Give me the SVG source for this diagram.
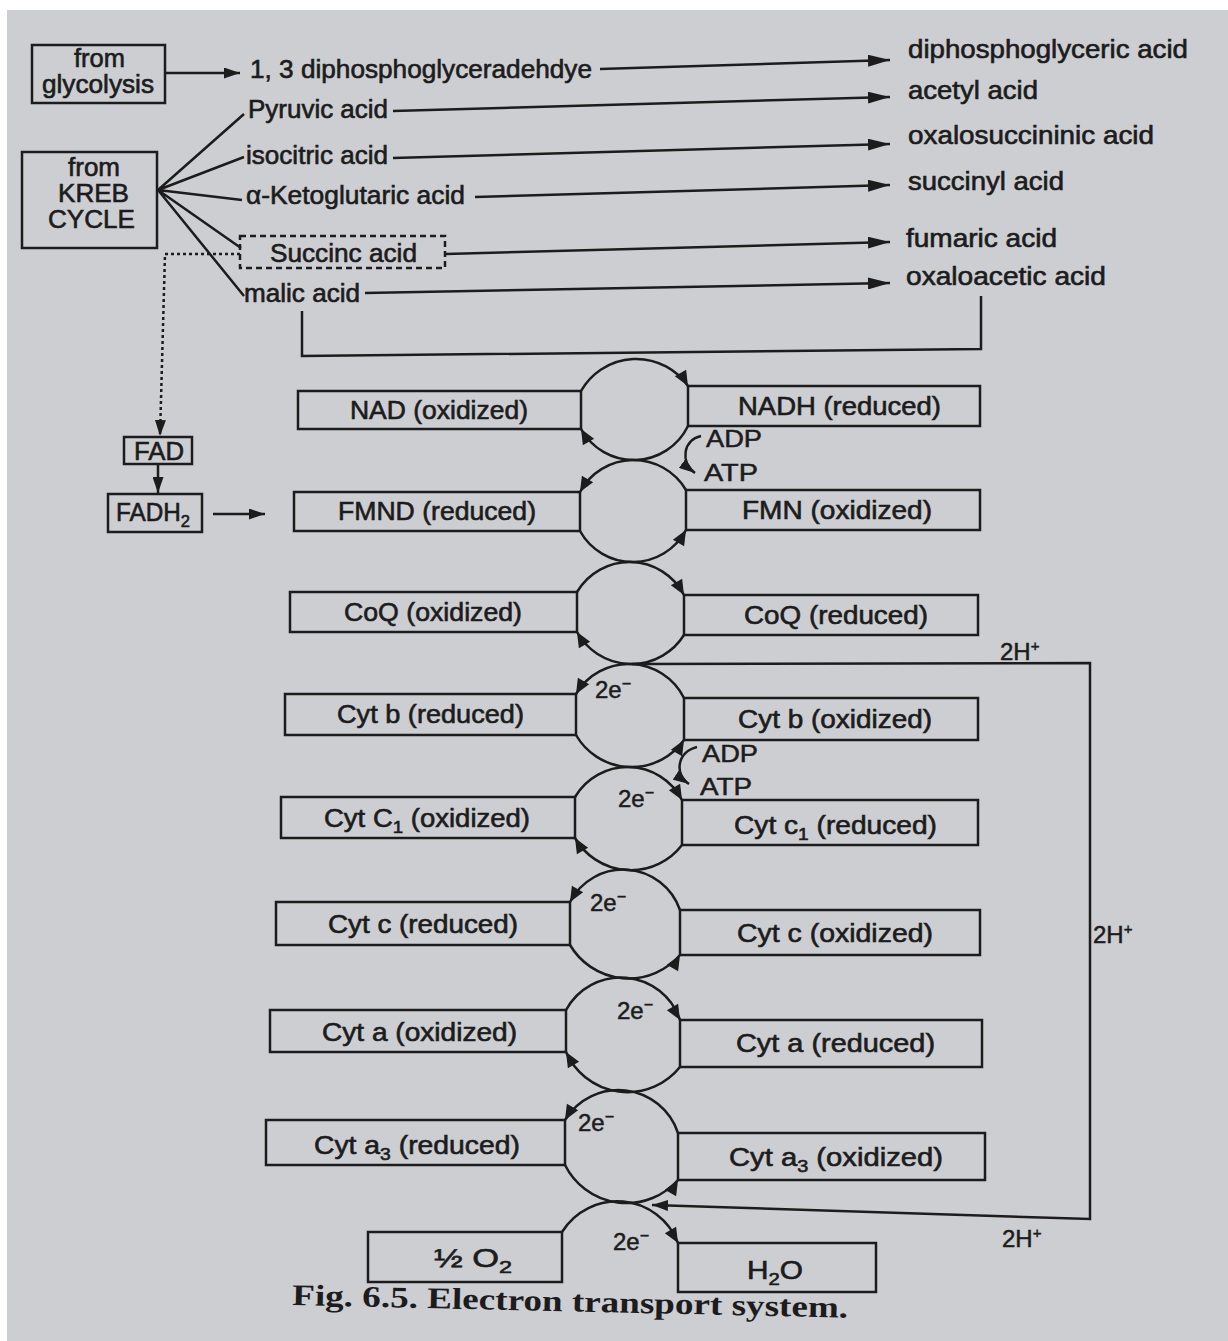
<svg xmlns="http://www.w3.org/2000/svg" xmlns:xlink="http://www.w3.org/1999/xlink" width="1228" height="1341" viewBox="0 0 1228 1341">
<style>
.bx{fill:none;stroke:#1c1c1c;stroke-width:2.5}
.ln{fill:none;stroke:#1c1c1c;stroke-width:2.5}
.t{font-family:"Liberation Sans",Arial,sans-serif;font-size:25px;fill:#1c1c1c;stroke:#1c1c1c;stroke-width:0.6}
.s{font-family:"Liberation Sans",Arial,sans-serif;font-size:24px;fill:#1c1c1c;stroke:#1c1c1c;stroke-width:0.5}
.cap{font-family:"Liberation Serif","Times New Roman",serif;font-size:30px;font-weight:bold;fill:#1c1c1c}
.ah{fill:#1c1c1c}
</style>
<defs>
<marker id="arr" viewBox="0 0 22 12" refX="22" refY="6" markerWidth="22" markerHeight="12" markerUnits="userSpaceOnUse" orient="auto"><path d="M0,0 L22,6 L0,12 Z" fill="#1c1c1c"/></marker>
<marker id="arrs" viewBox="0 0 16 11" refX="16" refY="5.5" markerWidth="16" markerHeight="11" markerUnits="userSpaceOnUse" orient="auto"><path d="M0,0 L16,5.5 L0,11 Z" fill="#1c1c1c"/></marker>
<path id="ah" d="M0,0 L-15,-6.5 L-15,6.5 Z"/>
</defs>
<rect x="0" y="0" width="1228" height="1341" fill="#ffffff"/>
<rect x="7" y="10" width="1221" height="1331" fill="#cdced2"/>

<g id="connectors">
  <line class="ln" x1="166" y1="73" x2="240" y2="73" marker-end="url(#arrs)"/>
  <line class="ln" x1="600" y1="69" x2="890" y2="60" marker-end="url(#arr)"/>
  <line class="ln" x1="393" y1="111" x2="890" y2="97" marker-end="url(#arr)"/>
  <line class="ln" x1="393" y1="158" x2="890" y2="144" marker-end="url(#arr)"/>
  <line class="ln" x1="475" y1="197" x2="890" y2="185" marker-end="url(#arr)"/>
  <line class="ln" x1="446" y1="254" x2="890" y2="242" marker-end="url(#arr)"/>
  <line class="ln" x1="365" y1="293" x2="890" y2="283" marker-end="url(#arr)"/>
  <path class="ln" d="M158 190 L244 114 M158 190 L244 157 M158 190 L242 200 M158 190 L241 248 M158 190 L244 296"/>
  <path class="ln" d="M302 311 V356 L981 349 V296"/>
  <path class="ln" d="M240 254 L165 254 L160 436" stroke-dasharray="3 3" marker-end="url(#arrs)"/>
  <line class="ln" x1="158" y1="465" x2="158" y2="493" marker-end="url(#arrs)"/>
  <line class="ln" x1="213" y1="514" x2="265" y2="514" marker-end="url(#arrs)"/>
  <path class="ln" d="M701 436 C683 440 680 462 695 473" marker-end="url(#arrs)"/>
  <path class="ln" d="M697 747 C677 752 674 774 689 784" marker-end="url(#arrs)"/>
  <path class="ln" d="M632 664 L1090 663 L1090 1219 L652 1205" marker-end="url(#arrs)"/>
  <!-- circle arcs -->
  <path class="ln" d="M581 391 A63.3 63.3 0 0 1 688 386 M688 426 A60.3 60.3 0 0 1 581 429"/>
  <path class="ln" d="M580 492 A60.8 60.8 0 0 1 686 490 M686 530 A60.3 60.3 0 0 1 580 531"/>
  <path class="ln" d="M577 592 A61.2 61.2 0 0 1 684 595 M684 635 A62.2 62.2 0 0 1 577 632"/>
  <path class="ln" d="M576 694 A61.6 61.6 0 0 1 684 698 M684 740 A64.2 64.2 0 0 1 576 735"/>
  <path class="ln" d="M575 797 A61.2 61.2 0 0 1 682 800 M682 845 A64.5 64.5 0 0 1 575 838"/>
  <path class="ln" d="M570 902 A60 60 0 0 1 680 910 M680 955 A68 68 0 0 1 570 945"/>
  <path class="ln" d="M566 1010 A62.4 62.4 0 0 1 680 1020 M680 1067 A67.3 67.3 0 0 1 566 1052"/>
  <path class="ln" d="M565 1120 A62.7 62.7 0 0 1 678 1133 M678 1180 A68.8 68.8 0 0 1 565 1165"/>
  <path class="ln" d="M562 1232 A65.1 65.1 0 0 1 678 1243"/>
  <!-- arc arrowheads -->
  <use xlink:href="#ah" class="ah" transform="translate(688 386) rotate(60)"/>
  <use xlink:href="#ah" class="ah" transform="translate(581 429) rotate(-120)"/>
  <use xlink:href="#ah" class="ah" transform="translate(580 492) rotate(120)"/>
  <use xlink:href="#ah" class="ah" transform="translate(686 530) rotate(-60)"/>
  <use xlink:href="#ah" class="ah" transform="translate(684 595) rotate(60)"/>
  <use xlink:href="#ah" class="ah" transform="translate(577 632) rotate(-120)"/>
  <use xlink:href="#ah" class="ah" transform="translate(576 694) rotate(120)"/>
  <use xlink:href="#ah" class="ah" transform="translate(684 740) rotate(-60)"/>
  <use xlink:href="#ah" class="ah" transform="translate(682 800) rotate(60)"/>
  <use xlink:href="#ah" class="ah" transform="translate(575 838) rotate(-120)"/>
  <use xlink:href="#ah" class="ah" transform="translate(570 902) rotate(120)"/>
  <use xlink:href="#ah" class="ah" transform="translate(680 955) rotate(-60)"/>
  <use xlink:href="#ah" class="ah" transform="translate(680 1020) rotate(60)"/>
  <use xlink:href="#ah" class="ah" transform="translate(566 1052) rotate(-120)"/>
  <use xlink:href="#ah" class="ah" transform="translate(565 1120) rotate(120)"/>
  <use xlink:href="#ah" class="ah" transform="translate(678 1180) rotate(-60)"/>
  <use xlink:href="#ah" class="ah" transform="translate(678 1243) rotate(60)"/>
</g>

<g id="glycolysis">
  <rect class="bx" x="32" y="45" width="133" height="58"/>
  <text class="t" x="74" y="67" font-size="22px" textLength="51" lengthAdjust="spacingAndGlyphs">from</text>
  <text class="t" x="42" y="93" font-size="22px" textLength="112" lengthAdjust="spacingAndGlyphs">glycolysis</text>
</g>
<g id="kreb">
  <rect class="bx" x="22" y="152" width="135" height="96"/>
  <text class="t" x="68" y="176" textLength="52" lengthAdjust="spacingAndGlyphs">from</text>
  <text class="t" x="58" y="202" textLength="71" lengthAdjust="spacingAndGlyphs">KREB</text>
  <text class="t" x="48" y="228" textLength="87" lengthAdjust="spacingAndGlyphs">CYCLE</text>
</g>
<g id="dpgald"><text class="t" x="250" y="78" textLength="342" lengthAdjust="spacingAndGlyphs">1, 3 diphosphoglyceradehdye</text></g>
<g id="pyruvic"><text class="t" x="248" y="118" textLength="140" lengthAdjust="spacingAndGlyphs">Pyruvic acid</text></g>
<g id="isocitric"><text class="t" x="246" y="164" textLength="142" lengthAdjust="spacingAndGlyphs">isocitric acid</text></g>
<g id="ketoglutaric"><text class="t" x="246" y="204" textLength="219" lengthAdjust="spacingAndGlyphs">α-Ketoglutaric acid</text></g>
<g id="succinic">
  <rect class="bx" x="240" y="236" width="205" height="32" stroke-dasharray="6 4"/>
  <text class="t" x="270" y="262" textLength="147" lengthAdjust="spacingAndGlyphs">Succinc acid</text>
</g>
<g id="malic"><text class="t" x="244" y="302" textLength="116" lengthAdjust="spacingAndGlyphs">malic acid</text></g>
<g id="dpga"><text class="t" x="908" y="58" textLength="280" lengthAdjust="spacingAndGlyphs">diphosphoglyceric acid</text></g>
<g id="acetyl"><text class="t" x="908" y="99" textLength="130" lengthAdjust="spacingAndGlyphs">acetyl acid</text></g>
<g id="oxalosuccinic"><text class="t" x="908" y="144" textLength="246" lengthAdjust="spacingAndGlyphs">oxalosuccininic acid</text></g>
<g id="succinyl"><text class="t" x="908" y="190" textLength="156" lengthAdjust="spacingAndGlyphs">succinyl acid</text></g>
<g id="fumaric"><text class="t" x="906" y="247" textLength="151" lengthAdjust="spacingAndGlyphs">fumaric acid</text></g>
<g id="oxaloacetic"><text class="t" x="906" y="285" textLength="200" lengthAdjust="spacingAndGlyphs">oxaloacetic acid</text></g>

<g id="fad">
  <rect class="bx" x="124" y="437" width="68" height="27"/>
  <text class="t" x="134" y="460" textLength="50" lengthAdjust="spacingAndGlyphs">FAD</text>
</g>
<g id="fadh2">
  <rect class="bx" x="108" y="494" width="94" height="38"/>
  <text class="t" x="116" y="521" textLength="74" lengthAdjust="spacingAndGlyphs">FADH<tspan dy="6" font-size="17">2</tspan></text>
</g>

<g id="nad"><rect class="bx" x="298" y="391" width="283" height="38"/><text class="t" x="350" y="419" textLength="178" lengthAdjust="spacingAndGlyphs">NAD (oxidized)</text></g>
<g id="nadh"><rect class="bx" x="688" y="386" width="292" height="40"/><text class="t" x="738" y="415" textLength="203" lengthAdjust="spacingAndGlyphs">NADH (reduced)</text></g>
<g id="adp1"><text class="s" x="706" y="447" textLength="56" lengthAdjust="spacingAndGlyphs">ADP</text></g>
<g id="atp1"><text class="s" x="704" y="481" textLength="54" lengthAdjust="spacingAndGlyphs">ATP</text></g>

<g id="fmnd"><rect class="bx" x="294" y="492" width="286" height="39"/><text class="t" x="338" y="520" textLength="198" lengthAdjust="spacingAndGlyphs">FMND (reduced)</text></g>
<g id="fmn"><rect class="bx" x="686" y="490" width="294" height="40"/><text class="t" x="742" y="519" textLength="190" lengthAdjust="spacingAndGlyphs">FMN (oxidized)</text></g>

<g id="coq-ox"><rect class="bx" x="290" y="592" width="287" height="40"/><text class="t" x="344" y="621" textLength="178" lengthAdjust="spacingAndGlyphs">CoQ (oxidized)</text></g>
<g id="coq-red"><rect class="bx" x="684" y="595" width="294" height="40"/><text class="t" x="744" y="624" textLength="184" lengthAdjust="spacingAndGlyphs">CoQ (reduced)</text></g>
<g id="h-top"><text class="s" x="1000" y="660">2H<tspan dy="-9" font-size="15">+</tspan></text></g>

<g id="e1"><text class="s" x="595" y="698">2e<tspan dy="-9" font-size="16">−</tspan></text></g>
<g id="cytb-red"><rect class="bx" x="285" y="694" width="291" height="41"/><text class="t" x="337" y="723" textLength="187" lengthAdjust="spacingAndGlyphs">Cyt b (reduced)</text></g>
<g id="cytb-ox"><rect class="bx" x="684" y="698" width="294" height="42"/><text class="t" x="738" y="728" textLength="194" lengthAdjust="spacingAndGlyphs">Cyt b (oxidized)</text></g>
<g id="adp2"><text class="s" x="702" y="762" textLength="56" lengthAdjust="spacingAndGlyphs">ADP</text></g>
<g id="atp2"><text class="s" x="700" y="795" textLength="52" lengthAdjust="spacingAndGlyphs">ATP</text></g>

<g id="e2"><text class="s" x="618" y="807">2e<tspan dy="-9" font-size="16">−</tspan></text></g>
<g id="cytc1-ox"><rect class="bx" x="281" y="797" width="294" height="41"/><text class="t" x="324" y="827" textLength="206" lengthAdjust="spacingAndGlyphs">Cyt C<tspan dy="6" font-size="17">1</tspan><tspan dy="-6"> (oxidized)</tspan></text></g>
<g id="cytc1-red"><rect class="bx" x="682" y="800" width="296" height="45"/><text class="t" x="734" y="834" textLength="203" lengthAdjust="spacingAndGlyphs">Cyt c<tspan dy="6" font-size="17">1</tspan><tspan dy="-6"> (reduced)</tspan></text></g>

<g id="e3"><text class="s" x="590" y="911">2e<tspan dy="-9" font-size="16">−</tspan></text></g>
<g id="cytc-red"><rect class="bx" x="276" y="902" width="294" height="43"/><text class="t" x="328" y="933" textLength="190" lengthAdjust="spacingAndGlyphs">Cyt c (reduced)</text></g>
<g id="cytc-ox"><rect class="bx" x="680" y="910" width="300" height="45"/><text class="t" x="737" y="942" textLength="196" lengthAdjust="spacingAndGlyphs">Cyt c (oxidized)</text></g>
<g id="h-mid"><text class="s" x="1093" y="943">2H<tspan dy="-9" font-size="15">+</tspan></text></g>

<g id="e4"><text class="s" x="617" y="1019">2e<tspan dy="-9" font-size="16">−</tspan></text></g>
<g id="cyta-ox"><rect class="bx" x="270" y="1010" width="296" height="42"/><text class="t" x="322" y="1041" textLength="195" lengthAdjust="spacingAndGlyphs">Cyt a (oxidized)</text></g>
<g id="cyta-red"><rect class="bx" x="680" y="1020" width="302" height="47"/><text class="t" x="736" y="1052" textLength="199" lengthAdjust="spacingAndGlyphs">Cyt a (reduced)</text></g>

<g id="e5"><text class="s" x="578" y="1131">2e<tspan dy="-9" font-size="16">−</tspan></text></g>
<g id="cyta3-red"><rect class="bx" x="266" y="1120" width="299" height="45"/><text class="t" x="314" y="1154" textLength="206" lengthAdjust="spacingAndGlyphs">Cyt a<tspan dy="6" font-size="17">3</tspan><tspan dy="-6"> (reduced)</tspan></text></g>
<g id="cyta3-ox"><rect class="bx" x="678" y="1133" width="307" height="47"/><text class="t" x="729" y="1166" textLength="214" lengthAdjust="spacingAndGlyphs">Cyt a<tspan dy="6" font-size="17">3</tspan><tspan dy="-6"> (oxidized)</tspan></text></g>

<g id="e6"><text class="s" x="613" y="1250">2e<tspan dy="-9" font-size="16">−</tspan></text></g>
<g id="h-bot"><text class="s" x="1002" y="1247">2H<tspan dy="-9" font-size="15">+</tspan></text></g>
<g id="o2"><rect class="bx" x="368" y="1232" width="194" height="50"/><text class="t" x="434" y="1267" textLength="78" lengthAdjust="spacingAndGlyphs">½ O<tspan dy="6" font-size="17">2</tspan></text></g>
<g id="h2o"><rect class="bx" x="678" y="1243" width="198" height="49"/><text class="t" x="747" y="1279" textLength="56" lengthAdjust="spacingAndGlyphs">H<tspan dy="6" font-size="17">2</tspan><tspan dy="-6">O</tspan></text></g>

<g id="caption"><text class="cap" x="292" y="1305" textLength="556" lengthAdjust="spacingAndGlyphs" transform="rotate(1.3 292 1305)">Fig. 6.5. Electron transport system.</text></g>
</svg>
